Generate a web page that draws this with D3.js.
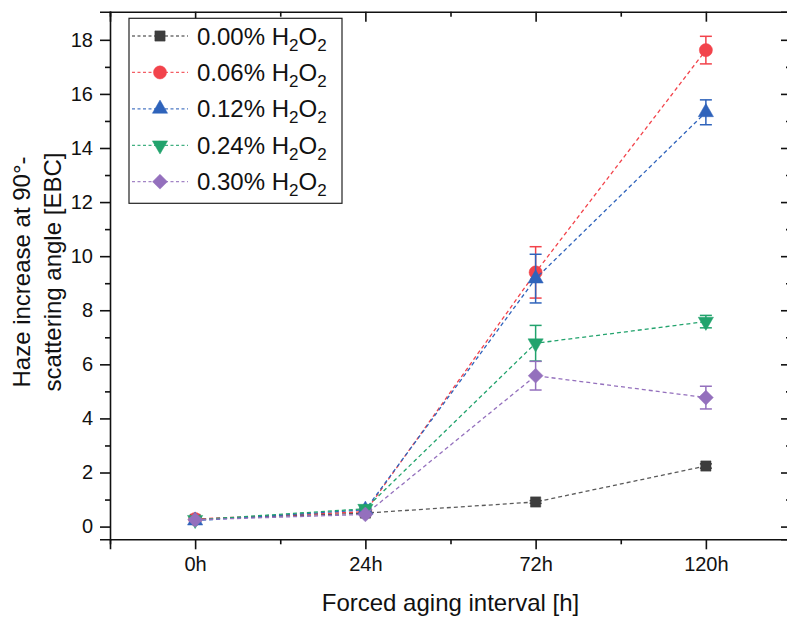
<!DOCTYPE html>
<html>
<head>
<meta charset="utf-8">
<script src="https://cdn.jsdelivr.net/npm/d3@7"></script>
<style>
  html, body { margin: 0; padding: 0; background: #ffffff; }
  svg { display: block; font-family: Arial, "Liberation Sans", Helvetica, sans-serif; }
</style>
</head>
<body>
<svg id="chart" width="787" height="619"></svg>
<script>
// ---------------- data ----------------
const categories = ["0h", "24h", "72h", "120h"];
const seriesLabels = ["0.00%", "0.06%", "0.12%", "0.24%", "0.30%"];
const values000 = [0.27, 0.50, 0.91, 2.24];
const values006 = [0.28, 0.55, 9.40, 17.62];
const values012 = [0.22, 0.62, 9.17, 15.32];
const values024 = [0.25, 0.66, 6.78, 7.58];
const values030 = [0.25, 0.45, 5.58, 4.77];
const errors000 = [0.03, 0.03, 0.05, 0.08];
const errors006 = [0.05, 0.05, 0.95, 0.51];
const errors012 = [0.05, 0.05, 0.90, 0.46];
const errors024 = [0.05, 0.05, 0.66, 0.23];
const errors030 = [0.05, 0.05, 0.53, 0.42];
const yTicks = [0, 2, 4, 6, 8, 10, 12, 14, 16, 18];

const series = [
  { label: seriesLabels[0], values: values000, errors: errors000, color: "#3d3d3d", line: "#5a5a5a", symbol: "square" },
  { label: seriesLabels[1], values: values006, errors: errors006, color: "#f2434b", line: "#f2434b", symbol: "circle" },
  { label: seriesLabels[2], values: values012, errors: errors012, color: "#2f63bb", line: "#2f63bb", symbol: "triangle" },
  { label: seriesLabels[3], values: values024, errors: errors024, color: "#22a36d", line: "#22a36d", symbol: "down" },
  { label: seriesLabels[4], values: values030, errors: errors030, color: "#9470bd", line: "#9470bd", symbol: "diamond" }
];

// ---------------- layout ----------------
const svg = d3.select("#chart");
const plotLeft = 110, plotRight = 791, plotTop = 11.7, plotBottom = 539.3;

const x = d3.scaleLinear().domain([-0.5, 3.5]).range([plotLeft, plotRight]);
const y = d3.scaleLinear().domain([-0.47, 19.04]).range([plotBottom, plotTop]);

function symbolPath(kind) {
  if (kind === "square") return d3.symbol(d3.symbolSquare, 105)();
  if (kind === "circle") return d3.symbol(d3.symbolCircle, 135)();
  if (kind === "triangle") return d3.symbol(d3.symbolTriangle, 100)();
  if (kind === "down") return d3.symbol(d3.symbolTriangle, 100)();
  if (kind === "diamond") return d3.symbol(d3.symbolSquare, 110)();
}
function symbolRotate(kind) {
  if (kind === "down") return 180;
  if (kind === "diamond") return 45;
  return 0;
}

// ---------------- axes ----------------
const axisColor = "#111";
const minorY = d3.range(1, 19, 2);
const minorX = [-0.5, 0.5, 1.5, 2.5];

function styleAxis(g) {
  g.select(".domain").attr("stroke", axisColor).attr("stroke-width", 1.6);
  g.selectAll(".tick line").attr("stroke", axisColor).attr("stroke-width", 1.6);
  g.selectAll(".tick text").attr("fill", "#111");
}

// left
svg.append("g").attr("transform", `translate(${plotLeft},0)`)
  .call(d3.axisLeft(y).tickValues(yTicks).tickSize(10).tickPadding(7).tickFormat(d3.format("d")))
  .call(styleAxis)
  .call(g => g.selectAll(".tick text").attr("font-size", 20).attr("font-family", "Arial, 'Liberation Sans', sans-serif"));
svg.append("g").attr("transform", `translate(${plotLeft},0)`)
  .call(d3.axisLeft(y).tickValues(minorY).tickSize(5).tickFormat(""))
  .call(styleAxis).call(g => g.select(".domain").remove());

// right (inward ticks)
svg.append("g").attr("transform", `translate(${plotRight},0)`)
  .call(d3.axisLeft(y).tickValues(yTicks).tickSize(10).tickFormat(""))
  .call(styleAxis);
svg.append("g").attr("transform", `translate(${plotRight},0)`)
  .call(d3.axisLeft(y).tickValues(minorY).tickSize(5).tickFormat(""))
  .call(styleAxis).call(g => g.select(".domain").remove());

// bottom
svg.append("g").attr("transform", `translate(0,${plotBottom})`)
  .call(d3.axisBottom(x).tickValues([0, 1, 2, 3]).tickSize(10).tickPadding(8).tickFormat(i => categories[i]))
  .call(styleAxis)
  .call(g => g.selectAll(".tick text").attr("font-size", 20).attr("font-family", "Arial, 'Liberation Sans', sans-serif"));
svg.append("g").attr("transform", `translate(0,${plotBottom})`)
  .call(d3.axisBottom(x).tickValues(minorX).tickSize(5).tickFormat(""))
  .call(styleAxis).call(g => g.select(".domain").remove());

// top (inward ticks)
svg.append("g").attr("transform", `translate(0,${plotTop})`)
  .call(d3.axisBottom(x).tickValues([0, 1, 2, 3]).tickSize(10).tickFormat(""))
  .call(styleAxis);
svg.append("g").attr("transform", `translate(0,${plotTop})`)
  .call(d3.axisBottom(x).tickValues(minorX).tickSize(5).tickFormat(""))
  .call(styleAxis).call(g => g.select(".domain").remove());

// axis titles
svg.append("text")
  .attr("x", (plotLeft + plotRight) / 2).attr("y", 611)
  .attr("text-anchor", "middle").attr("font-size", 24).attr("fill", "#111")
  .text("Forced aging interval [h]");

const yTitle = svg.append("text")
  .attr("transform", "translate(0,272) rotate(-90)")
  .attr("text-anchor", "middle").attr("font-size", 24).attr("fill", "#111");
yTitle.append("tspan").attr("x", 0).attr("y", 30).text("Haze increase at 90°-");
yTitle.append("tspan").attr("x", 0).attr("y", 61).text("scattering angle [EBC]");

// ---------------- series ----------------
const line = d3.line().x((d, i) => x(i)).y(d => y(d));
const capHalf = 6;

series.forEach(s => {
  const g = svg.append("g");
  g.append("path")
    .attr("d", line(s.values))
    .attr("fill", "none")
    .attr("stroke", s.line)
    .attr("stroke-width", 1.3)
    .attr("stroke-dasharray", "4,3");

  // error bars
  const eb = g.append("g").attr("stroke", s.color).attr("stroke-width", 1.5).attr("fill", "none");
  s.values.forEach((v, i) => {
    const e = s.errors[i];
    const cx = x(i);
    eb.append("line").attr("x1", cx).attr("x2", cx).attr("y1", y(v - e)).attr("y2", y(v + e));
    eb.append("line").attr("x1", cx - capHalf).attr("x2", cx + capHalf).attr("y1", y(v + e)).attr("y2", y(v + e));
    eb.append("line").attr("x1", cx - capHalf).attr("x2", cx + capHalf).attr("y1", y(v - e)).attr("y2", y(v - e));
  });

  // markers
  g.selectAll("path.mk").data(s.values).enter().append("path")
    .attr("class", "mk")
    .attr("d", symbolPath(s.symbol))
    .attr("transform", (d, i) => `translate(${x(i)},${y(d)}) rotate(${symbolRotate(s.symbol)})`)
    .attr("fill", s.color)
    .attr("stroke", s.color)
    .attr("stroke-width", 0.5);
});

// ---------------- legend ----------------
const legend = svg.append("g");
legend.append("rect")
  .attr("x", 129).attr("y", 18.3).attr("width", 213).attr("height", 185)
  .attr("fill", "#ffffff").attr("stroke", "#222").attr("stroke-width", 1.2);

const legendY = d3.scaleLinear().domain([0, 4]).range([36, 181.7]);
series.forEach((s, i) => {
  const cy = legendY(i);
  legend.append("line")
    .attr("x1", 132).attr("x2", 188).attr("y1", cy).attr("y2", cy)
    .attr("stroke", s.line).attr("stroke-width", 1.3).attr("stroke-dasharray", "3,2.5").attr("opacity", 0.85);
  legend.append("path")
    .attr("d", symbolPath(s.symbol))
    .attr("transform", `translate(160,${cy}) rotate(${symbolRotate(s.symbol)})`)
    .attr("fill", s.color).attr("stroke", s.color).attr("stroke-width", 0.5);
  const t = legend.append("text")
    .attr("x", 197).attr("y", cy + 8.5)
    .attr("font-size", 24).attr("fill", "#111");
  t.append("tspan").text(s.label + " H");
  t.append("tspan").attr("font-size", 17).attr("dy", 6).text("2");
  t.append("tspan").attr("dy", -6).text("O");
  t.append("tspan").attr("font-size", 17).attr("dy", 6).text("2");
});
</script>
</body>
</html>
